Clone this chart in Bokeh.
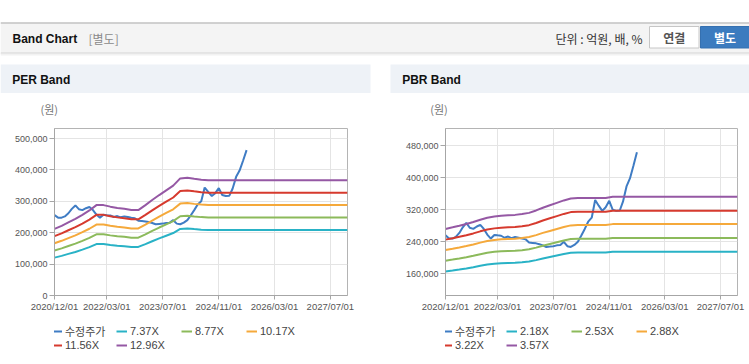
from datetime import datetime
import pandas as pd
from bokeh.plotting import figure
from bokeh.layouts import column, row
from bokeh.models import (Range1d, FixedTicker, DatetimeTickFormatter,
                          NumeralTickFormatter, Legend, LegendItem)
from bokeh.core.properties import value
from bokeh.embed import file_html
from bokeh.resources import INLINE

# ---------------- data ----------------
price_start = "2020-12-01"          # monthly adjusted price (수정주가), 원
price = [256000, 248000, 248000, 252000, 262000, 276000, 287000, 275000, 272000, 278000,
         282000, 272000, 258000, 248000, 257000, 256000, 255000, 250000, 253000, 249000,
         252000, 250000, 248000, 246000, 238000, 237000, 236000, 234000, 231000, 227000,
         228000, 229000, 231000, 232000, 240000, 229000, 227000, 232000, 240000, 255000,
         272000, 290000, 300000, 344000, 330000, 317000, 326000, 342000, 320000, 317000,
         318000, 340000, 378000, 398000, 430000, 463000]

band_dates = ["2020-12-01", "2021-02-01", "2021-04-01", "2021-06-01", "2021-08-01",
              "2021-10-01", "2021-12-01", "2022-02-01", "2022-04-01", "2022-06-01",
              "2022-08-01", "2022-10-01", "2022-12-01", "2023-02-01", "2023-04-01",
              "2023-06-01", "2023-08-01", "2023-10-01", "2023-12-01", "2024-02-01",
              "2024-04-01", "2024-06-01", "2024-08-01", "2024-10-01", "2024-12-01",
              "2027-11-27"]
# per-share earnings (EPS) and book value (BPS) behind the bands, 원
per_eps = [16360, 17130, 17980, 18830, 19830, 20910, 22220, 22220, 21840, 21530,
           21300, 20990, 20990, 22220, 23460, 24690, 25850, 27010, 28780, 28940,
           28700, 28470, 28320, 28320, 28320, 28320]
pbr_bps = [76200, 77300, 78400, 79600, 81000, 82600, 84000, 84900, 85400, 85700,
           86000, 86600, 87400, 89100, 91000, 92700, 94400, 96100, 97500, 97800,
           97800, 97800, 97800, 97800, 98600, 98600]

per_multiples = [7.37, 8.77, 10.17, 11.56, 12.96]
pbr_multiples = [2.18, 2.53, 2.88, 3.22, 3.57]
per_labels = ["7.37X", "8.77X", "10.17X", "11.56X", "12.96X"]
pbr_labels = ["2.18X", "2.53X", "2.88X", "3.22X", "3.57X"]
price_label = "수정주가"

x_ticks = ["2020-12-01", "2022-03-01", "2023-07-01", "2024-11-01", "2026-03-01", "2027-07-01"]
x_start, x_end = "2020-12-01", "2027-11-27"
per_y_ticks = [0, 100000, 200000, 300000, 400000, 500000]
pbr_y_ticks = [160000, 240000, 320000, 400000, 480000]
per_y_range = (0, 532000)
pbr_y_range = (106000, 522400)

# ---------------- styles ----------------
LAT = "Liberation Sans, Noto Sans CJK KR"
KR = "Noto Sans CJK KR"
price_color = "#3f7cc4"
band_colors = ["#29b2c6", "#8cba5b", "#f5a93b", "#d63a2e", "#9558a4"]

price_x = pd.date_range(price_start, periods=len(price), freq="MS")
band_x = pd.to_datetime(band_dates)
tick_ms = [pd.Timestamp(d).value / 1e6 for d in x_ticks]


def bare(width, height, xr, yr, **kw):
    f = figure(width=width, height=height, x_range=Range1d(*xr), y_range=Range1d(*yr),
               output_backend="svg", toolbar_location=None, min_border=0,
               x_axis_location=None, y_axis_location=None, **kw)
    f.grid.visible = False
    f.outline_line_color = None
    f.background_fill_color = "white"
    f.border_fill_color = "white"
    return f


def draw_series(fig, multiples, base):
    rs = [fig.line(price_x, price, line_color=price_color, line_width=2)]
    for k, col in zip(multiples, band_colors):
        ys = [k * b for b in base]
        rs.append(fig.line(band_x, ys, line_color=col, line_width=2))
    return rs


def make_chart(multiples, labels, base, y_range, y_ticks, width, left, right, leg_x):
    p = figure(width=width, height=202, x_axis_type="datetime",
               x_range=Range1d(pd.Timestamp(x_start), pd.Timestamp(x_end)),
               y_range=Range1d(*y_range),
               min_border_left=left, min_border_right=right,
               min_border_top=12, min_border_bottom=23,
               output_backend="svg", toolbar_location=None)
    p.background_fill_color = "white"
    p.border_fill_color = "white"
    p.outline_line_color = "#b4b4b4"

    p.xaxis.ticker = FixedTicker(ticks=tick_ms)
    p.xaxis.formatter = DatetimeTickFormatter(days="%Y/%m/%d", months="%Y/%m/%d",
                                              years="%Y/%m/%d")
    p.yaxis.ticker = FixedTicker(ticks=y_ticks)
    p.yaxis.formatter = NumeralTickFormatter(format="0,0")
    for ax, fs, to in ((p.xaxis, "9.5px", 4), (p.yaxis, "9px", 5)):
        ax.major_label_text_font = LAT
        ax.major_label_text_font_size = fs
        ax.major_label_text_color = "#555555"
        ax.axis_line_color = "#a6a6a6"
        ax.major_tick_line_color = "#a6a6a6"
        ax.major_tick_out = to
        ax.major_tick_in = 0
        ax.minor_tick_line_color = None
    p.xaxis.major_label_standoff = 1
    p.yaxis.major_label_standoff = 2
    p.grid.grid_line_color = "#e4e4e4"

    draw_series(p, multiples, base)

    # legend strip below the chart: same series, drawn outside its (empty) view
    lf = bare(width, 44, (0, 1), (0, 1))
    rs = draw_series(lf, multiples, base)
    items = [LegendItem(label=lab, renderers=[r])
             for lab, r in zip([price_label] + labels, rs)]
    leg = Legend(items=items, orientation="horizontal", ncols=4,
                 location=(leg_x, 11), glyph_width=11, glyph_height=12,
                 label_height=12, label_width=51, label_standoff=3, spacing=0,
                 padding=0, margin=0, border_line_color=None,
                 background_fill_alpha=0, label_text_font=LAT,
                 label_text_font_size="11px", label_text_color="#444444")
    lf.add_layout(leg)
    return column(p, lf)


per = make_chart(per_multiples, per_labels, per_eps, per_y_range, per_y_ticks,
                 390, 54, 43, -3)
pbr = make_chart(pbr_multiples, pbr_labels, pbr_bps, pbr_y_range, pbr_y_ticks,
                 359, 55, 12, -4)

# ---------------- page header / panel headers ----------------
top = bare(749, 116, (0, 749), (116, 0))

top.quad(left=[0], right=[749], top=[22], bottom=[52], fill_color="#f4f4f4", line_color=None)
top.segment(x0=[0], y0=[22.5], x1=[749], y1=[22.5], line_color="#a9a9a9", line_width=1)
for yy, cc in ((52.5, "#cfcfcf"), (53.5, "#e4e4e4"), (54.5, "#f2f2f2")):
    top.segment(x0=[0], y0=[yy], x1=[749], y1=[yy], line_color=cc, line_width=1)

top.text(x=[12], y=[38], text=["Band Chart"], text_font=value(LAT), text_font_style="bold",
         text_font_size=value("12px"), text_baseline="middle", text_color="#111111")
top.text(x=[88], y=[38], text=["[별도]"], text_font=value(KR),
         text_font_size=value("12px"), text_baseline="middle", text_color="#8a8a8a")
top.text(x=[642], y=[37.5], text=["단위 : 억원, 배, %"], text_font=value(KR),
         text_font_size=value("12px"), text_baseline="middle", text_align="right",
         text_color="#333333")
top.quad(left=[649], right=[698.5], top=[26], bottom=[47.5], fill_color="white",
         line_color="#c6c6c6")
top.text(x=[673.7], y=[37], text=["연결"], text_font=value(KR), text_font_style="bold",
         text_font_size=value("12px"), text_baseline="middle", text_align="center",
         text_color="#555555")
top.quad(left=[700], right=[749], top=[26], bottom=[47.5], fill_color="#3b7bbf",
         line_color="#3570b0")
top.text(x=[724.5], y=[37], text=["별도"], text_font=value(KR), text_font_style="bold",
         text_font_size=value("12px"), text_baseline="middle", text_align="center",
         text_color="white")

top.quad(left=[0, 390], right=[370, 749], top=[64, 64], bottom=[92.5, 92.5],
         fill_color="#eef2f7", line_color=None)
top.text(x=[11.7, 401.7], y=[79.5, 79.5], text=["PER Band", "PBR Band"],
         text_font=value(LAT), text_font_style="bold", text_font_size=value("12px"),
         text_baseline="middle", text_color="#111111")
top.text(x=[40, 429.7], y=[108.5, 108.5], text=["(원)", "(원)"], text_font=value(KR),
         text_font_size=value("11px"), text_baseline="middle", text_color="#777777")

# bottom border lines of the two panels
bottom = bare(749, 2, (0, 749), (364, 362))
bottom.quad(left=[0, 390], right=[370, 749], top=[362, 362], bottom=[364, 364],
            fill_color="#dcdcdc", line_color=None)

layout = column(top, row(per, pbr), bottom)
open("out.html", "w").write(file_html(layout, INLINE))
